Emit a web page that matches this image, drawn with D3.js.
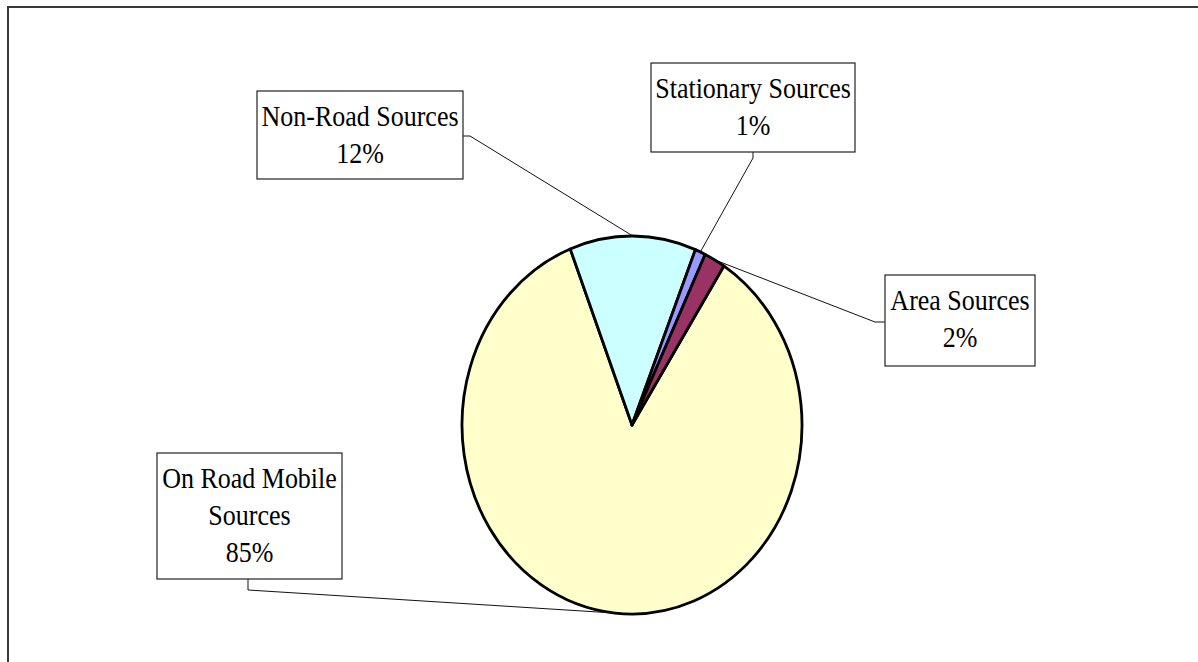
<!DOCTYPE html>
<html>
<head>
<meta charset="utf-8">
<script src="https://cdn.jsdelivr.net/npm/d3@7"></script>
<style>
  html, body { margin: 0; padding: 0; background: #fff; }
  svg { display: block; }
</style>
</head>
<body>
<svg id="chart" width="1198" height="662"></svg>
<script>
// data
var categories = ['On Road Mobile Sources', 'Non-Road Sources', 'Stationary Sources', 'Area Sources'];
var shares = [85, 12, 1, 2];
var labelLines = [['On Road Mobile', 'Sources'], ['Non-Road Sources'], ['Stationary Sources'], ['Area Sources']];
var sliceColors = ['#FFFFCC', '#CCFFFF', '#9999FF', '#993366'];

var svg = d3.select('#chart');

// outer chart border (runs off the right/bottom edge like the original)
svg.append('rect')
  .attr('x', 8).attr('y', 7)
  .attr('width', 1400).attr('height', 900)
  .attr('fill', 'none')
  .attr('stroke', '#3a3a3a')
  .attr('stroke-width', 2);

// pie is drawn as a circle then squeezed horizontally into an ellipse
var cx = 632, cy = 425, R = 189, sx = 170 / 189;
var startDeg = 32.7;

var pie = d3.pie()
  .sort(null)
  .value(function (d) { return d.v })
  .startAngle(startDeg * Math.PI / 180)
  .endAngle(startDeg * Math.PI / 180 + 2 * Math.PI);

var rows = categories.map(function (c, i) { return { name: c, v: shares[i], i: i } });
var arcs = pie(rows);

var arc = d3.arc().innerRadius(0).outerRadius(R);
var edge = d3.arc().innerRadius(R).outerRadius(R);

var pieG = svg.append('g')
  .attr('transform', 'translate(' + cx + ',' + cy + ') scale(' + sx + ',1)');

pieG.selectAll('.slice')
  .data(arcs)
  .join('path')
  .attr('class', 'slice')
  .attr('d', arc)
  .attr('fill', function (d) { return sliceColors[d.data.i] })
  .attr('stroke', '#000')
  .attr('stroke-width', 2.8)
  .attr('stroke-linejoin', 'round')
  .attr('vector-effect', 'non-scaling-stroke');

// label boxes (layout only)
var boxes = [
  { x: 157, y: 453, w: 185, h: 126, stub: [[248, 579], [248, 590]] },
  { x: 257, y: 91, w: 206, h: 88, stub: [[463, 136], [470, 136]] },
  { x: 651, y: 63, w: 204, h: 89, stub: [[753, 152], [753, 158]] },
  { x: 885, y: 275, w: 150, h: 91, stub: [[885, 322], [875, 322]] }
];

// leader lines
arcs.forEach(function (d) {
  var b = boxes[d.data.i];
  var c = edge.centroid(d);
  var pts = b.stub.concat([[cx + c[0] * sx, cy + c[1]]]);
  svg.append('path')
    .attr('d', d3.line()(pts))
    .attr('fill', 'none')
    .attr('stroke', '#111')
    .attr('stroke-width', 1);
});

var labelG = svg.selectAll('.lbl')
  .data(arcs)
  .join('g')
  .attr('class', 'lbl');

labelG.append('rect')
  .attr('x', function (d) { return boxes[d.data.i].x })
  .attr('y', function (d) { return boxes[d.data.i].y })
  .attr('width', function (d) { return boxes[d.data.i].w })
  .attr('height', function (d) { return boxes[d.data.i].h })
  .attr('fill', '#fff')
  .attr('stroke', '#222')
  .attr('stroke-width', 1.2);

labelG.each(function (d) {
  var b = boxes[d.data.i];
  var lines = labelLines[d.data.i].concat([d.data.v + '%']);
  var g = d3.select(this);
  lines.forEach(function (t, k) {
    g.append('text')
      .attr('transform', 'translate(' + (b.x + b.w / 2) + ',' + (b.y + 35 + k * 37) + ') scale(1,1.112)')
      .attr('text-anchor', 'middle')
      .style('font-family', "'Liberation Serif', serif")
      .style('font-size', '26px')
      .attr('fill', '#000')
      .text(t);
  });
});
</script>
</body>
</html>
